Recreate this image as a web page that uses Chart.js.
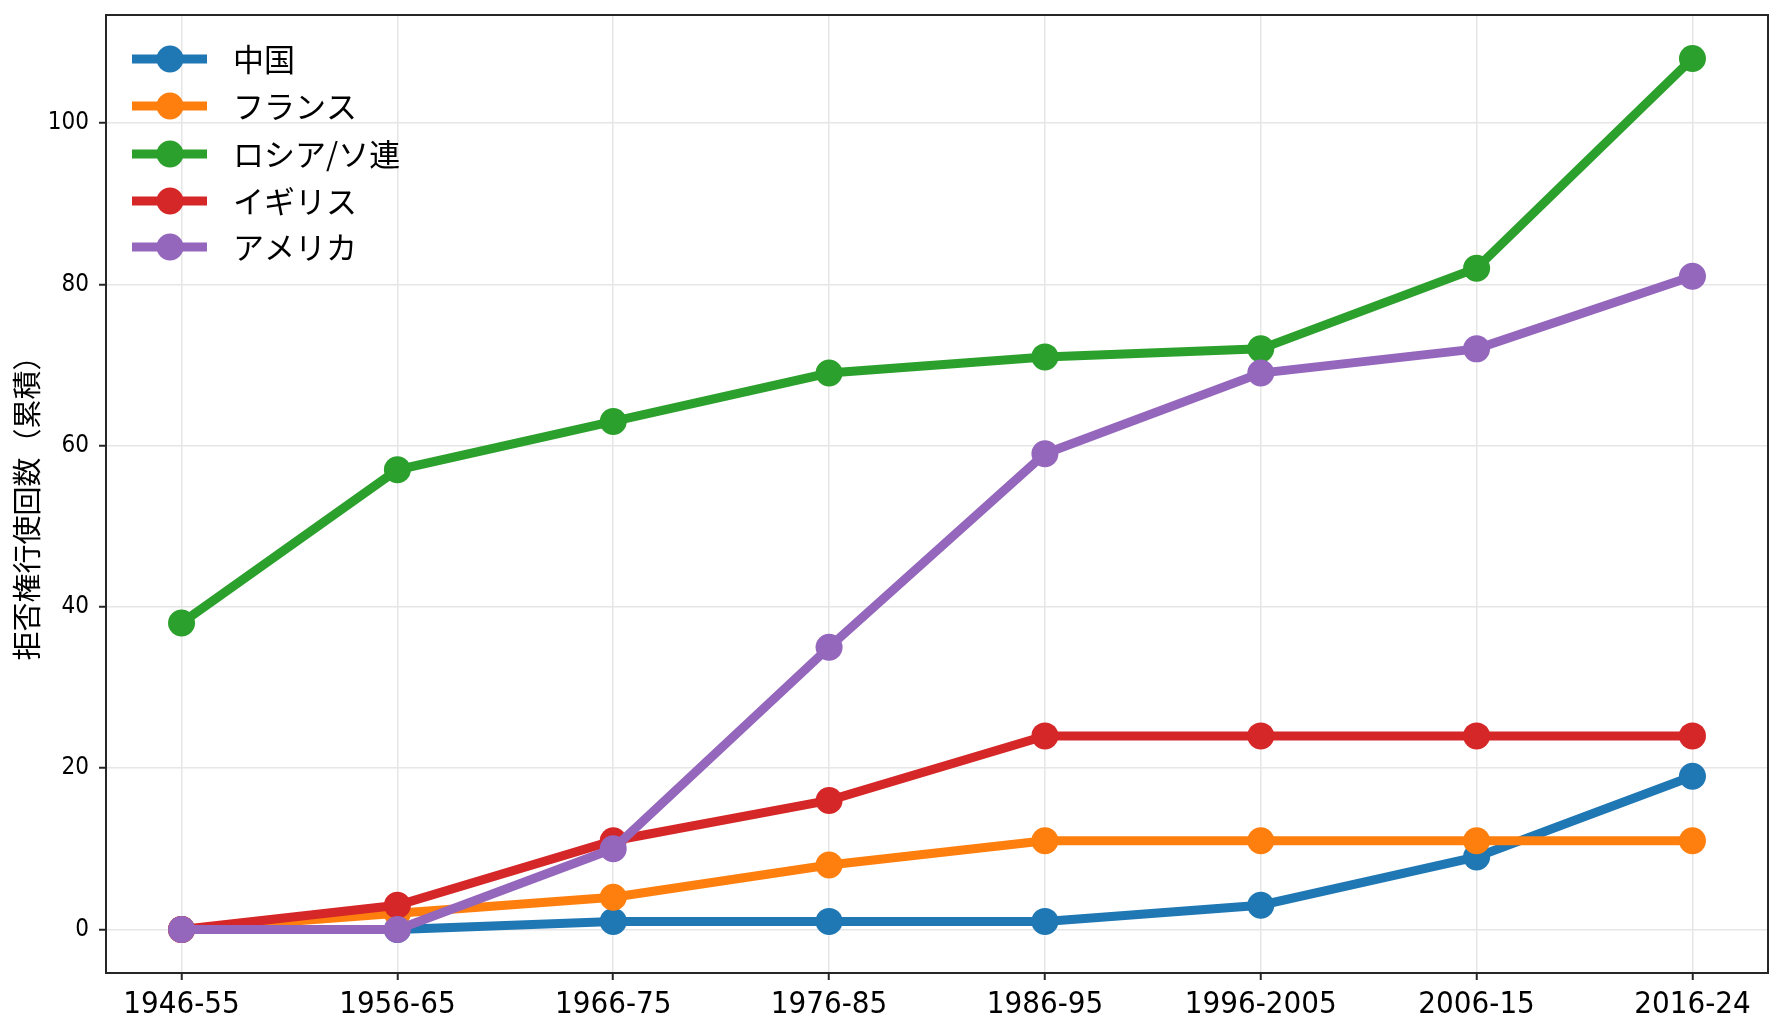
<!DOCTYPE html>
<html>
<head>
<meta charset="utf-8">
<script src="https://cdn.jsdelivr.net/npm/chart.js@4"></script>
<style>
  html, body { margin: 0; padding: 0; background: #fff; }
  #wrap { width: 1785px; height: 1035px; }
</style>
</head>
<body>
<div id="wrap"><canvas id="vetoChart" width="1785" height="1035"></canvas></div>
<script>
const periods = ['1946-55', '1956-65', '1966-75', '1976-85', '1986-95', '1996-2005', '2006-15', '2016-24'];
const countries = ['中国', 'フランス', 'ロシア/ソ連', 'イギリス', 'アメリカ'];
const china = [0, 0, 1, 1, 1, 3, 9, 19];
const france = [0, 2, 4, 8, 11, 11, 11, 11];
const russia = [38, 57, 63, 69, 71, 72, 82, 108];
const uk = [0, 3, 11, 16, 24, 24, 24, 24];
const usa = [0, 0, 10, 35, 59, 69, 72, 81];
const yTicks = [0, 20, 40, 60, 80, 100];

const seriesValues = [china, france, russia, uk, usa];
const colors = ['#1f77b4', '#ff7f0e', '#2ca02c', '#d62728', '#9467bd'];

const narrowFont = "'DejaVu Sans Condensed', 'Liberation Sans Narrow', sans-serif";
const jpFont = "'Noto Sans CJK JP', sans-serif";

const datasets = seriesValues.map((vals, i) => ({
  label: countries[i],
  data: vals.map((v, j) => ({ x: j, y: v })),
  borderColor: colors[i],
  backgroundColor: colors[i],
  borderWidth: 9,
  pointRadius: 13.5,
  pointHoverRadius: 13.5,
  pointBorderWidth: 0,
  pointBackgroundColor: colors[i],
  tension: 0,
  order: seriesValues.length - 1 - i
}));

// legend, frame and y title drawn by hand so they look like the original
const extras = {
  id: 'extras',
  afterDraw(chart) {
    const ctx = chart.ctx;
    const a = chart.chartArea;
    ctx.save();
    ctx.strokeStyle = '#262626';
    ctx.lineWidth = 2;
    ctx.strokeRect(a.left, a.top, a.right - a.left, a.bottom - a.top);

    // legend
    const rowY = [59, 106, 154, 201, 247];
    countries.forEach((name, i) => {
      const y = rowY[i];
      ctx.strokeStyle = colors[i];
      ctx.lineWidth = 9;
      ctx.beginPath();
      ctx.moveTo(132, y);
      ctx.lineTo(207, y);
      ctx.stroke();
      ctx.fillStyle = colors[i];
      ctx.beginPath();
      ctx.arc(170, y, 13.5, 0, Math.PI * 2);
      ctx.fill();
      ctx.fillStyle = '#000';
      ctx.font = '31px ' + jpFont;
      ctx.textAlign = 'left';
      ctx.textBaseline = 'middle';
      ctx.fillText(name, 233, y);
    });

    // y axis title
    ctx.translate(27, 501);
    ctx.rotate(-Math.PI / 2);
    ctx.fillStyle = '#000';
    ctx.font = '29px ' + jpFont;
    ctx.textAlign = 'center';
    ctx.textBaseline = 'middle';
    ctx.fillText('拒否権行使回数（累積）', 0, 0);
    ctx.restore();
  }
};

const ctx = document.getElementById('vetoChart');
const chart = new Chart(ctx, {
  type: 'line',
  data: { datasets: datasets },
  options: {
    responsive: false,
    devicePixelRatio: 1,
    animation: false,
    events: [],
    layout: { padding: { top: 15, right: 17, left: 0, bottom: 0 } },
    plugins: {
      legend: { display: false },
      tooltip: { enabled: false }
    },
    scales: {
      x: {
        type: 'linear',
        min: -0.35,
        max: 7.35,
        afterBuildTicks(scale) {
          scale.ticks = periods.map((p, i) => ({ value: i }));
        },
        afterFit(scale) {
          scale.height = 62;
          scale.paddingLeft = 0;
          scale.paddingRight = 0;
        },
        ticks: {
          callback: (v) => periods[v],
          font: { family: narrowFont, size: 31 },
          color: '#000',
          padding: 6,
          maxRotation: 0,
          autoSkip: false
        },
        grid: {
          color: '#e6e6e6',
          lineWidth: 1.5,
          tickColor: '#262626',
          tickLength: 7,
          tickWidth: 2
        },
        border: { display: false }
      },
      y: {
        min: -5.4,
        max: 113.4,
        afterBuildTicks(scale) {
          scale.ticks = yTicks.map(v => ({ value: v }));
        },
        afterFit(scale) {
          scale.width = 106;
          scale.paddingTop = 0;
          scale.paddingBottom = 0;
        },
        ticks: {
          font: { family: narrowFont, size: 24 },
          color: '#000',
          padding: 10
        },
        grid: {
          color: '#e6e6e6',
          lineWidth: 1.5,
          tickColor: '#262626',
          tickLength: 7,
          tickWidth: 2
        },
        border: { display: false }
      }
    }
  },
  plugins: [extras]
});
</script>
</body>
</html>
